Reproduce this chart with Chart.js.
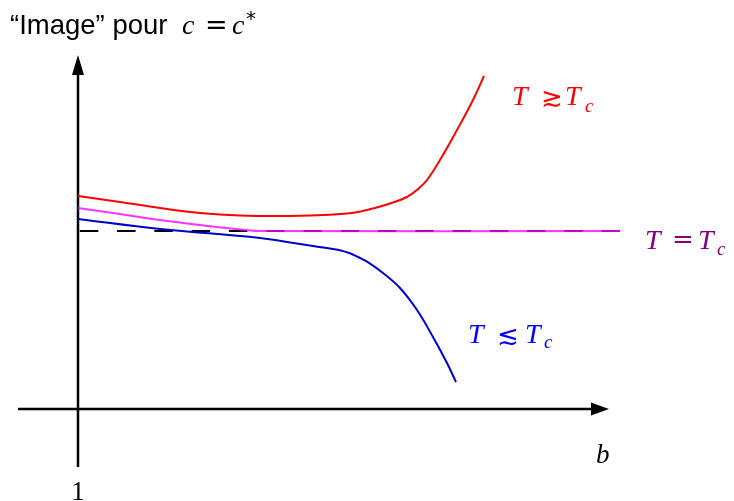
<!DOCTYPE html>
<html>
<head>
<meta charset="utf-8">
<script src="https://cdn.jsdelivr.net/npm/chart.js@4"></script>
<style>
html,body{margin:0;padding:0;background:#fff;}
#wrap{width:734px;height:501px;position:relative;}
</style>
</head>
<body>
<div id="wrap"><canvas id="c"></canvas></div>
<script>
// ---- data (schematic units: x = b, y = image value) ----
const redX = [0, 0.42, 0.82, 1.22, 1.62, 2.12, 2.52, 2.77, 2.95, 3.12, 3.29, 3.39, 3.49, 3.62, 3.79, 3.95, 4.06];
const redY = [2.13, 2.07, 2.01, 1.96, 1.935, 1.93, 1.942, 1.965, 2.005, 2.055, 2.12, 2.19, 2.29, 2.49, 2.79, 3.09, 3.33];
const magX = [0, 0.42, 0.82, 1.22, 1.49, 1.82, 5.42];
const magY = [2.01, 1.95, 1.89, 1.84, 1.81, 1.78, 1.78];
const bluX = [0, 0.82, 1.82, 2.22, 2.55, 2.64, 2.72, 2.80, 2.89, 3.05, 3.22, 3.39, 3.55, 3.69, 3.78];
const bluY = [1.90, 1.80, 1.71, 1.65, 1.60, 1.582, 1.558, 1.52, 1.473, 1.36, 1.21, 0.99, 0.72, 0.46, 0.27];
const dashX = [0, 5.42];
const dashY = [1.78, 1.78];
const xTickLabels = ["1"];
const xAxisLabel = "b";

const pts = (xs, ys) => xs.map((x, i) => ({x: x, y: ys[i]}));

const SERIF_I = "'Liberation Serif','DejaVu Serif',serif";
const SYM = "'DejaVu Serif','DejaVu Sans',serif";

function drawParts(ctx, x0, y0, color, parts) {
  ctx.save();
  ctx.fillStyle = color;
  ctx.textBaseline = 'alphabetic';
  ctx.textAlign = 'left';
  for (const p of parts) {
    ctx.font = p.f;
    ctx.fillText(p.t, x0 + p.dx, y0 + (p.dy || 0));
  }
  ctx.restore();
}

const decor = {
  id: 'decor',
  beforeDatasetsDraw(chart) {
    const ctx = chart.ctx;
    const xs = chart.scales.x, ys = chart.scales.y;
    const X = v => xs.getPixelForValue(v), Y = v => ys.getPixelForValue(v);
    ctx.save();
    ctx.strokeStyle = '#000';
    ctx.fillStyle = '#000';
    ctx.lineWidth = 2.5;
    const hx0 = X(-0.6), hx1 = X(5.13), hy = Y(0);
    ctx.beginPath(); ctx.moveTo(hx0, hy); ctx.lineTo(hx1, hy); ctx.stroke();
    const tipX = X(5.31);
    ctx.beginPath(); ctx.moveTo(tipX, hy); ctx.lineTo(hx1, hy - 6.5); ctx.lineTo(hx1, hy + 6.5); ctx.closePath(); ctx.fill();
    const vx = X(0), vy0 = Y(-0.58), vy1 = Y(3.34);
    ctx.beginPath(); ctx.moveTo(vx, vy0); ctx.lineTo(vx, vy1); ctx.stroke();
    const tipY = Y(3.54);
    ctx.beginPath(); ctx.moveTo(vx, tipY); ctx.lineTo(vx - 6, vy1); ctx.lineTo(vx + 6, vy1); ctx.closePath(); ctx.fill();
    ctx.restore();
  },
  afterDatasetsDraw(chart) {
    const ctx = chart.ctx;
    const xs = chart.scales.x, ys = chart.scales.y;
    const X = v => xs.getPixelForValue(v), Y = v => ys.getPixelForValue(v);
    ctx.save();
    ctx.fillStyle = '#000';
    ctx.font = "27px 'Liberation Serif','DejaVu Serif',serif";
    ctx.textAlign = 'center';
    ctx.textBaseline = 'alphabetic';
    ctx.fillText(xTickLabels[0], X(0), 500);
    ctx.font = "italic 27px " + SERIF_I;
    ctx.textAlign = 'left';
    ctx.fillText(xAxisLabel, 596, 463);
    ctx.restore();

    drawParts(ctx, 10, 34, '#000', [
      {t: '\u201CImage\u201D pour', f: "27.5px 'Liberation Sans','DejaVu Sans',sans-serif", dx: 0},
      {t: 'c', f: "italic 28px " + SERIF_I, dx: 172},
      {t: '=', f: "27px " + SYM, dx: 195},
      {t: 'c', f: "italic 28px " + SERIF_I, dx: 222},
      {t: '*', f: "20px 'DejaVu Sans',sans-serif", dx: 236, dy: -9}
    ]);

    const it = "italic 28px " + SERIF_I;
    const sub = "italic 19px " + SERIF_I;
    const sym = "26px " + SYM;
    drawParts(ctx, X(4.34), Y(3.04), '#ff0000', [
      {t: 'T', f: it, dx: 0},
      {t: '\u2273', f: sym, dx: 29, dy: 1},
      {t: 'T', f: it, dx: 53},
      {t: 'c', f: sub, dx: 73, dy: 7}
    ]);
    drawParts(ctx, X(5.67), Y(1.60), '#800080', [
      {t: 'T', f: it, dx: 0},
      {t: '=', f: sym, dx: 27, dy: -1},
      {t: 'T', f: it, dx: 53},
      {t: 'c', f: sub, dx: 72, dy: 6}
    ]);
    drawParts(ctx, X(3.90), Y(0.66), '#0000ff', [
      {t: 'T', f: it, dx: 0},
      {t: '\u2272', f: sym, dx: 29, dy: 1},
      {t: 'T', f: it, dx: 57},
      {t: 'c', f: sub, dx: 76, dy: 5}
    ]);
  }
};

const common = {pointRadius: 0, fill: false, borderWidth: 2, tension: 0.4, clip: false};

new Chart(document.getElementById('c'), {
  type: 'line',
  data: {
    datasets: [
      Object.assign({label: 'T \u2273 Tc', data: pts(redX, redY), borderColor: '#ff0000', order: 1}, common),
      Object.assign({label: 'T \u2272 Tc', data: pts(bluX, bluY), borderColor: '#0000c8', order: 2}, common),
      Object.assign({label: 'T = Tc', data: pts(magX, magY), borderColor: 'rgba(255,0,255,0.8)', order: 3}, common, {tension: 0.3}),
      Object.assign({label: 'ref', data: pts(dashX, dashY), borderColor: '#000000', order: 4,
        borderDash: [18.3, 19], borderDashOffset: 35.6}, common)
    ]
  },
  options: {
    responsive: true,
    maintainAspectRatio: false,
    animation: false,
    layout: {padding: 0},
    plugins: {legend: {display: false}, tooltip: {enabled: false}, title: {display: false}},
    scales: {
      x: {type: 'linear', min: -0.78, max: 6.56, display: false},
      y: {type: 'linear', min: -0.92, max: 4.09, display: false}
    },
    events: []
  },
  plugins: [decor]
});
</script>
</body>
</html>
